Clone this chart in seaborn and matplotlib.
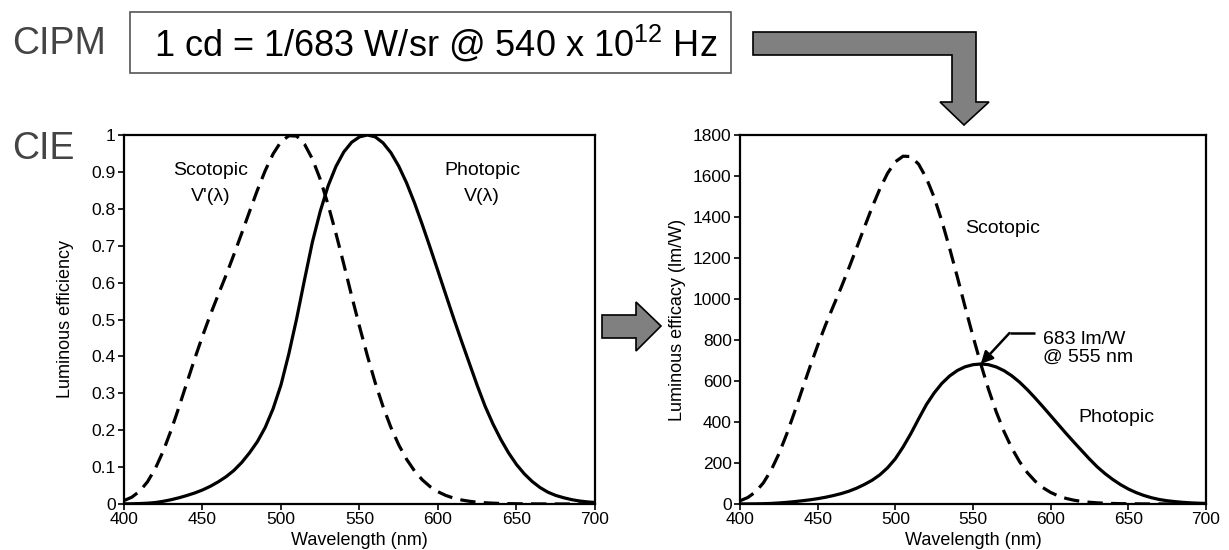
import matplotlib
matplotlib.use("Agg")
import matplotlib.pyplot as plt
from matplotlib.patches import Polygon, Rectangle
from matplotlib.ticker import FuncFormatter
import pandas as pd
import seaborn as sns

# CIE 1924 photopic and CIE 1951 scotopic luminous efficiency, 5 nm steps
wavelength_nm = list(range(400, 705, 5))
photopic_v = [
    0.000396, 0.000640, 0.00121, 0.00218, 0.00400, 0.00730, 0.01160, 0.01684,
    0.02300, 0.02980, 0.03800, 0.04800, 0.06000, 0.07390, 0.09098, 0.11260,
    0.13902, 0.16930, 0.20802, 0.25860, 0.32300, 0.40730, 0.50300, 0.60820,
    0.71000, 0.79320, 0.86200, 0.91485, 0.95400, 0.98030, 0.99495, 1.00000,
    0.99500, 0.97860, 0.95200, 0.91540, 0.87000, 0.81630, 0.75700, 0.69490,
    0.63100, 0.56680, 0.50300, 0.44120, 0.38100, 0.32100, 0.26500, 0.21700,
    0.17500, 0.13820, 0.10700, 0.08160, 0.06100, 0.04458, 0.03200, 0.02320,
    0.01700, 0.01192, 0.00821, 0.00572, 0.00410,
]
scotopic_v = [
    0.00929, 0.01852, 0.03484, 0.06040, 0.09660, 0.14360, 0.19980, 0.26250,
    0.32810, 0.39310, 0.45500, 0.51300, 0.56700, 0.62000, 0.67600, 0.73400,
    0.79300, 0.85100, 0.90400, 0.94900, 0.98200, 0.99800, 0.99700, 0.97500,
    0.93500, 0.88000, 0.81100, 0.73300, 0.65000, 0.56400, 0.48100, 0.40200,
    0.32880, 0.26390, 0.20760, 0.16020, 0.12120, 0.08990, 0.06550, 0.04690,
    0.03315, 0.02312, 0.01593, 0.01088, 0.00737, 0.00497, 0.003335, 0.002235,
    0.001497, 0.001005, 0.000677, 0.000459, 0.000313, 0.000215, 0.000148,
    0.000103, 0.0000715, 0.0000502, 0.0000353, 0.0000250, 0.0000178,
]

# Peak luminous efficacies (lm/W)
photopic_peak_efficacy = 683
photopic_peak_nm = 555
scotopic_peak_efficacy = 1700

efficiency_ticks = [0, 0.1, 0.2, 0.3, 0.4, 0.5, 0.6, 0.7, 0.8, 0.9, 1]
efficacy_ticks = [0, 200, 400, 600, 800, 1000, 1200, 1400, 1600, 1800]
wavelength_ticks = [400, 450, 500, 550, 600, 650, 700]

df = pd.DataFrame({
    "wavelength": wavelength_nm,
    "photopic": photopic_v,
    "scotopic": scotopic_v,
})
df["photopic_eff"] = df["photopic"] * photopic_peak_efficacy
df["scotopic_eff"] = df["scotopic"] * scotopic_peak_efficacy

sns.set_theme(style="ticks")
plt.rcParams["font.family"] = ["Liberation Sans", "DejaVu Sans"]
plt.rcParams["mathtext.fontset"] = "custom"
plt.rcParams["mathtext.rm"] = "Liberation Sans"
plt.rcParams["mathtext.it"] = "Liberation Sans"
plt.rcParams["text.color"] = "black"
plt.rcParams["axes.labelcolor"] = "black"

W, H = 1229, 550
fig = plt.figure(figsize=(W / 100, H / 100), dpi=100)


def fx(x):
    return x / W


def fy(y):
    return 1 - y / H


def axes_rect(x0, y0, x1, y1):
    return [fx(x0), fy(y1), fx(x1) - fx(x0), fy(y0) - fy(y1)]


ax1 = fig.add_axes(axes_rect(124, 135, 595, 504))
ax2 = fig.add_axes(axes_rect(740, 135, 1206, 504))

DASH = (4.8, 2.6)
LW = 2.3

sns.lineplot(data=df, x="wavelength", y="scotopic", ax=ax1, color="black", lw=LW)
ax1.lines[-1].set_dashes(DASH)
sns.lineplot(data=df, x="wavelength", y="photopic", ax=ax1, color="black", lw=LW)

sns.lineplot(data=df, x="wavelength", y="scotopic_eff", ax=ax2, color="black", lw=LW)
ax2.lines[-1].set_dashes(DASH)
sns.lineplot(data=df, x="wavelength", y="photopic_eff", ax=ax2, color="black", lw=LW)

for ax, yticks, ylab, ylab_x in ((ax1, efficiency_ticks, "Luminous efficiency", -0.106),
                                 (ax2, efficacy_ticks, "Luminous efficacy (lm/W)", -0.115)):
    ax.set_xlim(wavelength_ticks[0], wavelength_ticks[-1])
    ax.set_ylim(yticks[0], yticks[-1])
    ax.set_xticks(wavelength_ticks)
    ax.set_yticks(yticks)
    ax.yaxis.set_major_formatter(FuncFormatter(lambda v, p: f"{v:g}"))
    ax.set_xlabel("Wavelength (nm)", fontsize=13)
    ax.set_ylabel(ylab, fontsize=13)
    ax.xaxis.set_label_coords(0.5, -0.075)
    ax.yaxis.set_label_coords(ylab_x, 0.5)
    ax.tick_params(axis="both", direction="out", length=4, width=1.2,
                   labelsize=12.5, pad=2, colors="black")
    for s in ax.spines.values():
        s.set_visible(True)
        s.set_linewidth(1.6)
        s.set_color("black")

# Curve labels
ax1.text(455, 0.905, "Scotopic", ha="center", va="center", fontsize=14)
ax1.text(455, 0.832, "V'(\u03bb)", ha="center", va="center", fontsize=14)
ax1.text(628, 0.905, "Photopic", ha="center", va="center", fontsize=14)
ax1.text(628, 0.832, "V(\u03bb)", ha="center", va="center", fontsize=14)

ax2.text(545, 1346, "Scotopic", ha="left", va="center", fontsize=14)
ax2.text(618, 420, "Photopic", ha="left", va="center", fontsize=14)
ax2.text(595, 758, "683 lm/W\n@ 555 nm", ha="left", va="center", fontsize=14,
         linespacing=1.1)
ax2.plot([590, 573.5], [834, 834], color="black", lw=1.8, solid_capstyle="butt")
ax2.annotate("", xy=(photopic_peak_nm, photopic_peak_efficacy), xytext=(573.5, 834),
             arrowprops=dict(arrowstyle="-|>", color="black", lw=1.8,
                             mutation_scale=18, shrinkA=0, shrinkB=0))

# Header texts
fig.text(fx(12), fy(44), "CIPM", ha="left", va="center", fontsize=27, color="#444444")
fig.text(fx(12), fy(149), "CIE", ha="left", va="center", fontsize=27, color="#444444")
fig.patches.append(Rectangle((fx(130), fy(73)), fx(731) - fx(130), fy(12) - fy(73),
                             transform=fig.transFigure, facecolor="white",
                             edgecolor="#555555", lw=1.2))
fig.text(fx(154), fy(44), r"1 cd = 1/683 W/sr @ 540 x 10$^{12}$ Hz",
         ha="left", va="center", fontsize=26, color="black")

# Block arrows
bent = [(753, 32), (976, 32), (976, 102), (989, 102), (964, 125), (940, 102),
        (952, 102), (952, 55), (753, 55)]
fig.patches.append(Polygon([(fx(x), fy(y)) for x, y in bent], closed=True,
                           transform=fig.transFigure, facecolor="#808080",
                           edgecolor="black", lw=1.2))
right = [(602, 315), (636, 315), (636, 302), (661, 326), (636, 351), (636, 338),
         (602, 338)]
fig.patches.append(Polygon([(fx(x), fy(y)) for x, y in right], closed=True,
                           transform=fig.transFigure, facecolor="#808080",
                           edgecolor="black", lw=1.2))

fig.savefig("out.png", dpi=100)
